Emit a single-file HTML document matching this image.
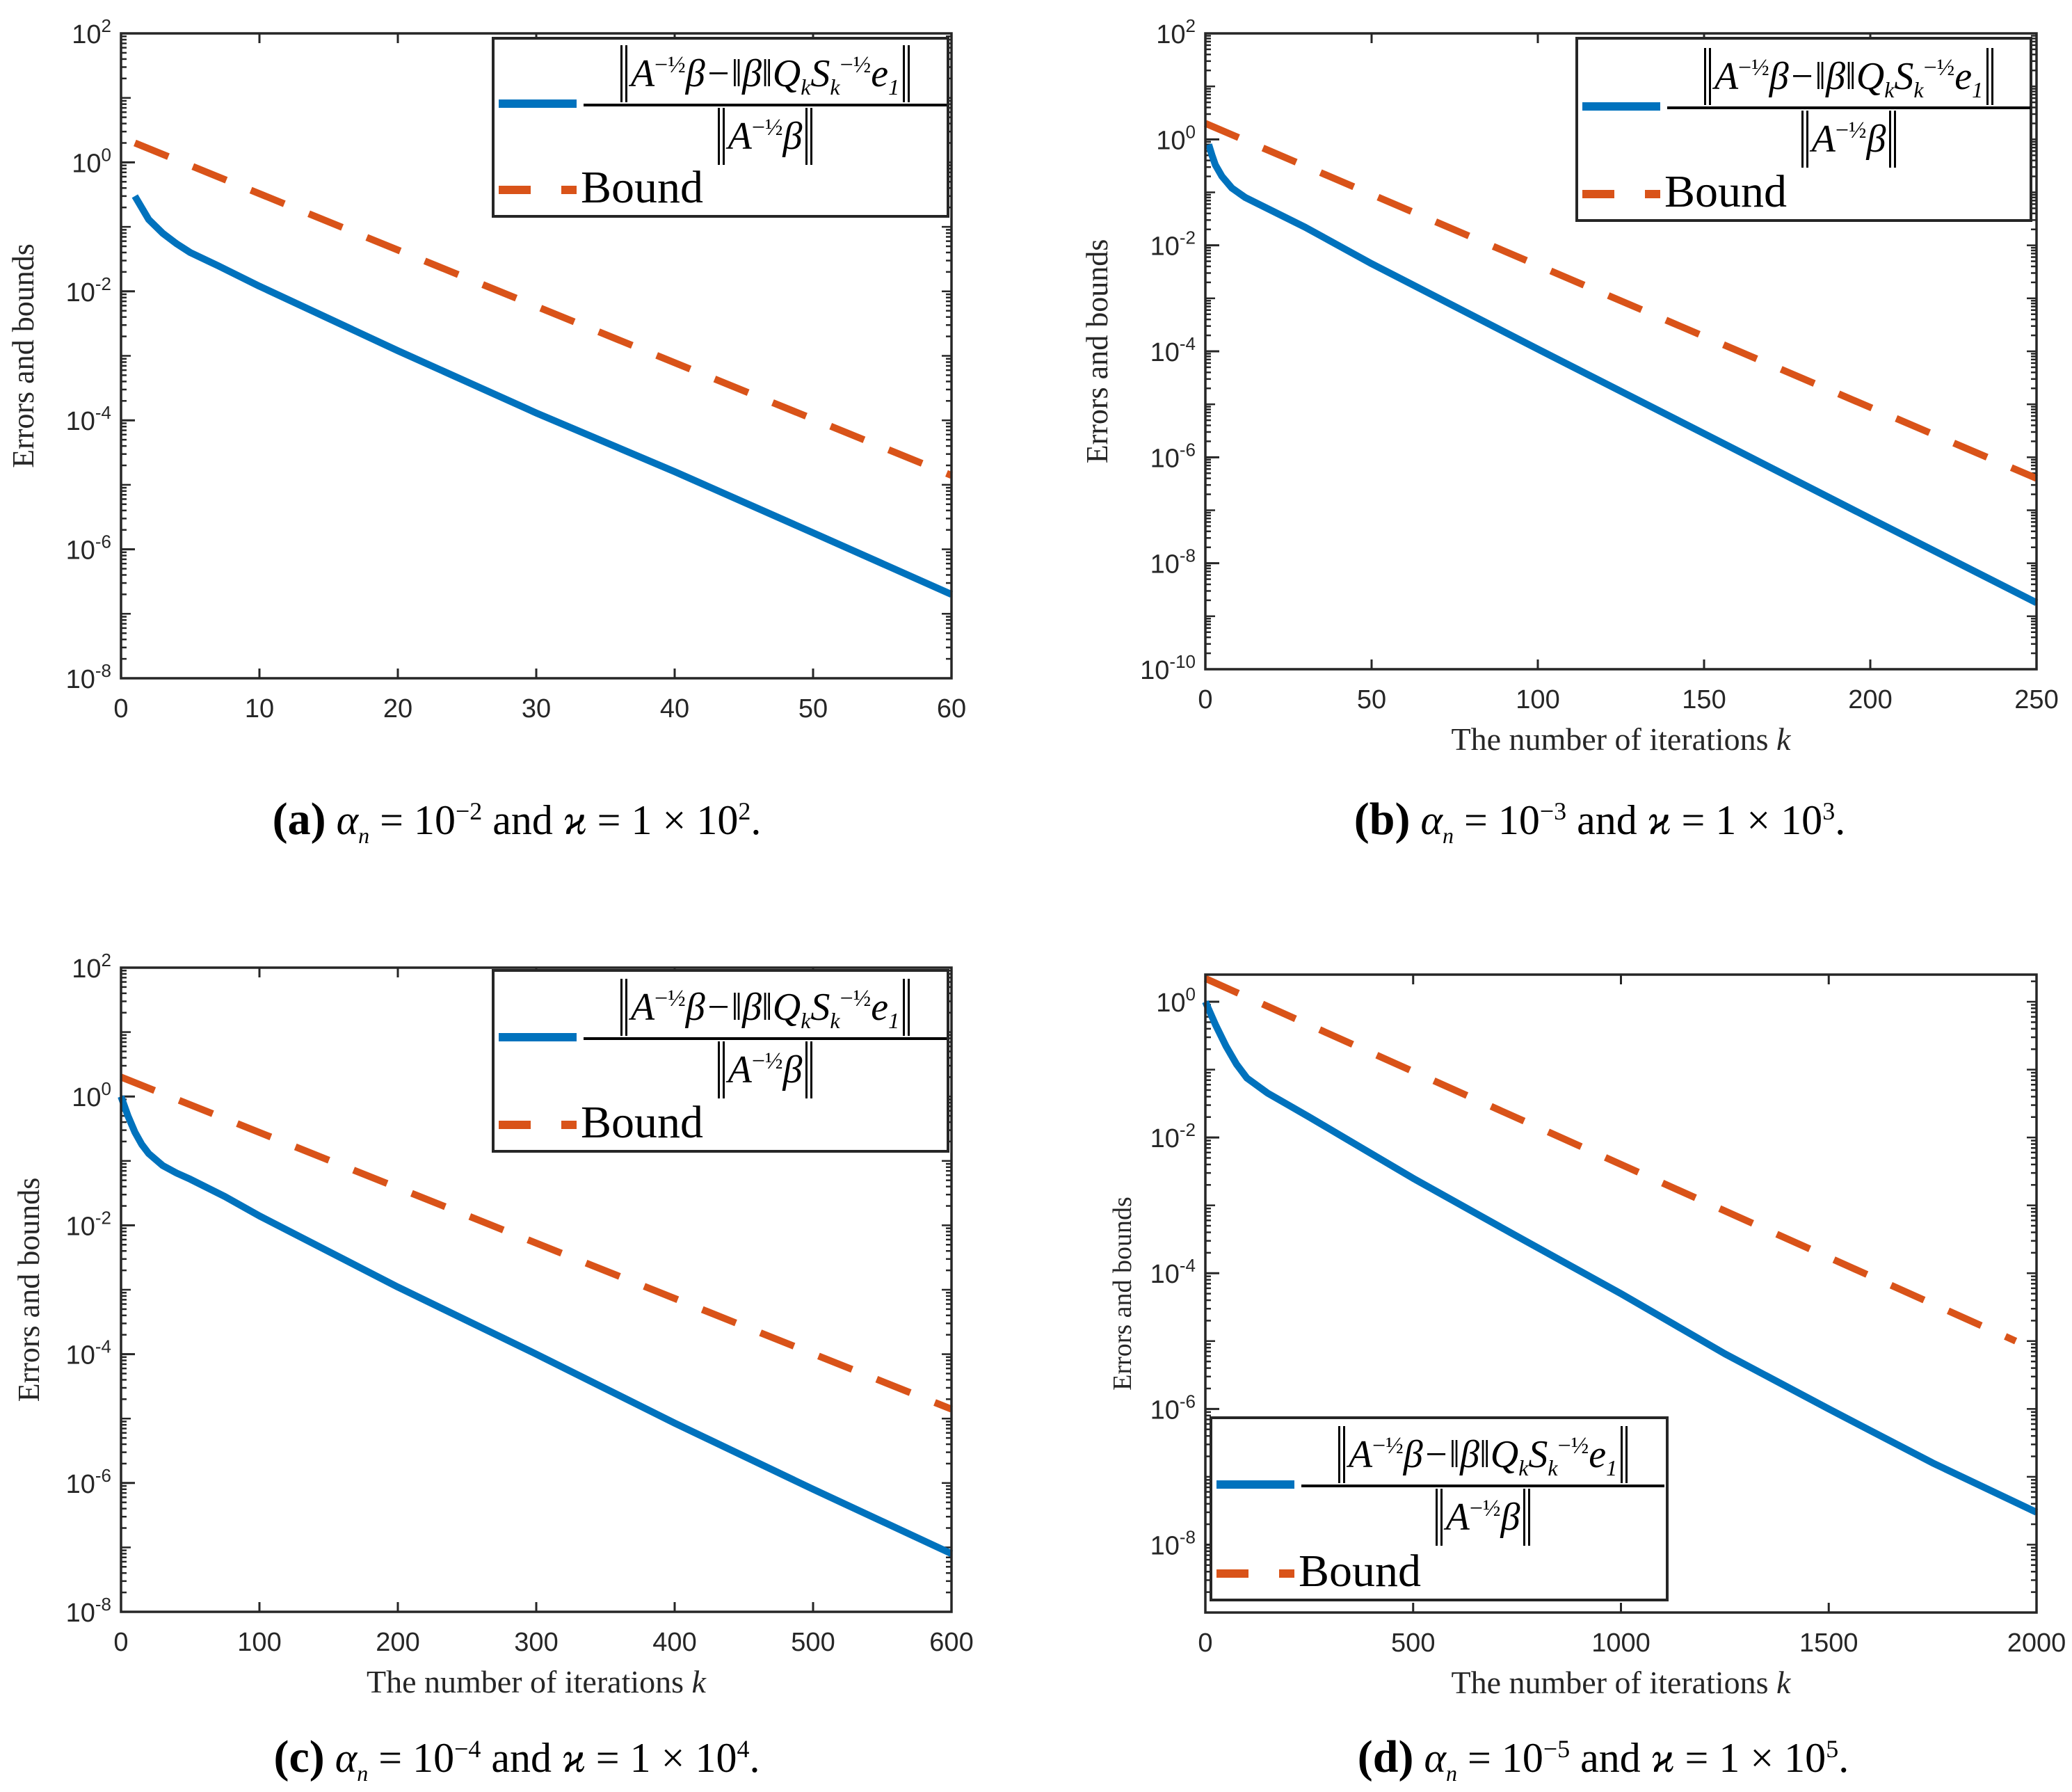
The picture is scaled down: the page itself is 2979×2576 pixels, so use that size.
<!DOCTYPE html>
<html><head><meta charset="utf-8">
<style>
html,body{margin:0;padding:0;background:#fff;}
body{width:2979px;height:2576px;position:relative;overflow:hidden;font-family:"Liberation Serif",serif;}
svg{position:absolute;left:0;top:0;}
.leg{position:absolute;border:4px solid #262626;background:#fff;box-sizing:border-box;}
.leg .l1{position:absolute;left:6px;height:12px;width:112px;background:#0072BD;}
.leg .d1{position:absolute;left:6px;height:12px;width:46px;background:#D95319;}
.leg .d2{position:absolute;left:96px;height:12px;width:22px;background:#D95319;}
.leg .bd{position:absolute;left:124px;font-size:66px;color:#000;line-height:1;}
.frac{position:absolute;left:128px;width:522px;font-family:"Liberation Serif",serif;font-style:italic;font-size:56px;color:#000;text-align:center;}
.num{border-bottom:4px solid #000;padding:0 2px 2px;white-space:nowrap;}
.den{padding-top:2px;white-space:nowrap;}
.nb{display:inline-block;border-left:10px double #000;border-right:10px double #000;height:82px;line-height:82px;padding:0 5px;vertical-align:top;}
sup{font-size:34px;font-style:normal;vertical-align:20px;line-height:0;}
sub{font-size:32px;line-height:0;}
.cap{position:absolute;font-size:60px;color:#000;white-space:nowrap;transform:translateX(-50%);}
.cap b{font-family:"Liberation Serif",serif;font-size:66px;}
.cap i{font-style:italic;}
.cap sup{font-size:36px;vertical-align:super;}
</style></head>
<body>
<svg id="fig" width="2979" height="2576" xmlns="http://www.w3.org/2000/svg"></svg>

<div class="leg" style="left:707px;top:53px;width:658px;height:260px;">
 <div class="l1" style="top:86px"></div>
 <div class="frac" style="top:8px"><div class="num"><span class="nb">A<sup>−½</sup>β−‖β‖Q<sub>k</sub>S<sub>k</sub><sup>−½</sup>e<sub>1</sub></span></div><div class="den"><span class="nb">A<sup>−½</sup>β</span></div></div>
 <div class="d1" style="top:210px"></div><div class="d2" style="top:210px"></div>
 <div class="bd" style="top:180px">Bound</div>
</div>
<div class="leg" style="left:2265px;top:53px;width:657px;height:266px;">
 <div class="l1" style="top:90px"></div>
 <div class="frac" style="top:12px"><div class="num"><span class="nb">A<sup>−½</sup>β−‖β‖Q<sub>k</sub>S<sub>k</sub><sup>−½</sup>e<sub>1</sub></span></div><div class="den"><span class="nb">A<sup>−½</sup>β</span></div></div>
 <div class="d1" style="top:216px"></div><div class="d2" style="top:216px"></div>
 <div class="bd" style="top:186px">Bound</div>
</div>
<div class="leg" style="left:707px;top:1393px;width:658px;height:264px;">
 <div class="l1" style="top:88px"></div>
 <div class="frac" style="top:10px"><div class="num"><span class="nb">A<sup>−½</sup>β−‖β‖Q<sub>k</sub>S<sub>k</sub><sup>−½</sup>e<sub>1</sub></span></div><div class="den"><span class="nb">A<sup>−½</sup>β</span></div></div>
 <div class="d1" style="top:214px"></div><div class="d2" style="top:214px"></div>
 <div class="bd" style="top:184px">Bound</div>
</div>
<div class="leg" style="left:1739px;top:2036px;width:660px;height:266px;">
 <div class="l1" style="top:88px"></div>
 <div class="frac" style="top:10px"><div class="num"><span class="nb">A<sup>−½</sup>β−‖β‖Q<sub>k</sub>S<sub>k</sub><sup>−½</sup>e<sub>1</sub></span></div><div class="den"><span class="nb">A<sup>−½</sup>β</span></div></div>
 <div class="d1" style="top:216px"></div><div class="d2" style="top:216px"></div>
 <div class="bd" style="top:186px">Bound</div>
</div>

<div class="cap" style="left:743px;top:1140px"><b>(a)</b> <i>α<sub>n</sub></i> = 10<sup>−2</sup> and <i>ϰ</i> = 1 × 10<sup>2</sup>.</div>
<div class="cap" style="left:2300px;top:1140px"><b>(b)</b> <i>α<sub>n</sub></i> = 10<sup>−3</sup> and <i>ϰ</i> = 1 × 10<sup>3</sup>.</div>
<div class="cap" style="left:743px;top:2488px"><b>(c)</b> <i>α<sub>n</sub></i> = 10<sup>−4</sup> and <i>ϰ</i> = 1 × 10<sup>4</sup>.</div>
<div class="cap" style="left:2305px;top:2488px"><b>(d)</b> <i>α<sub>n</sub></i> = 10<sup>−5</sup> and <i>ϰ</i> = 1 × 10<sup>5</sup>.</div>

<script>
// Panel (a)
const kA = [1, 2, 3, 4, 5, 7, 10, 20, 30, 40, 50, 60];
const errA = [0.3, 0.13, 0.08, 0.055, 0.04, 0.025, 0.012, 1.2e-3, 1.3e-4, 1.6e-5, 1.8e-6, 2e-7];
const bkA = [1, 60];
const bndA = [2, 1.4e-5];
const xTicksA = [0, 10, 20, 30, 40, 50, 60];
const yExpA = [2, 0, -2, -4, -6, -8];
// Panel (b)
const kB = [1, 2, 3, 5, 8, 12, 20, 30, 50, 100, 150, 200, 250];
const errB = [0.8, 0.5, 0.33, 0.2, 0.12, 0.08, 0.045, 0.022, 4.5e-3, 1.1e-4, 2.8e-6, 7e-8, 1.8e-9];
const bkB = [0, 250];
const bndB = [2, 4e-7];
const xTicksB = [0, 50, 100, 150, 200, 250];
const yExpB = [2, 0, -2, -4, -6, -8, -10];
// Panel (c)
const kC = [0, 5, 10, 15, 20, 30, 40, 50, 75, 100, 200, 300, 400, 500, 600];
const errC = [1, 0.5, 0.28, 0.18, 0.13, 0.085, 0.065, 0.052, 0.028, 0.014, 1.1e-3, 1e-4, 8.5e-6, 8e-7, 8e-8];
const bkC = [0, 600];
const bndC = [2, 1.4e-5];
const xTicksC = [0, 100, 200, 300, 400, 500, 600];
const yExpC = [2, 0, -2, -4, -6, -8];
// Panel (d)
const kD = [0, 25, 50, 75, 100, 150, 200, 250, 500, 750, 1000, 1250, 1500, 1750, 2000];
const errD = [1, 0.45, 0.22, 0.12, 0.075, 0.045, 0.03, 0.02, 2.5e-3, 3.5e-4, 5e-5, 6.5e-6, 1e-6, 1.6e-7, 3e-8];
const bkD = [0, 1950];
const bndD = [2.2, 1e-5];
const xTicksD = [0, 500, 1000, 1500, 2000];
const yExpD = [0, -2, -4, -6, -8];

const svg = document.getElementById('fig');
const NS = 'http://www.w3.org/2000/svg';
function mk(tag, attrs){const e=document.createElementNS(NS,tag);for(const k in attrs)e.setAttribute(k,attrs[k]);svg.appendChild(e);return e;}

function panel(cfg, id){
  const {x0,x1,y0,y1,xmax,lmin,lmax} = cfg;
  const X = v => x0 + (v/xmax)*(x1-x0);
  const Y = v => y1 - (Math.log10(v)-lmin)/(lmax-lmin)*(y1-y0);
  const g = mk('g',{});
  
  
  for(let e=Math.floor(lmin); e<Math.ceil(lmax); e++){
    for(let m=1;m<=9;m++){
      const v=m*Math.pow(10,e); const lv=Math.log10(v);
      if(lv<lmin-1e-9||lv>lmax+1e-9) continue;
      const y=Y(v); const len = m===1?14:8;
      mk('line',{x1:x0,x2:x0+len,y1:y,y2:y,stroke:'#262626','stroke-width':2.5});
      mk('line',{x1:x1,x2:x1-len,y1:y,y2:y,stroke:'#262626','stroke-width':2.5});
    }
  }
  cfg.yExp.forEach(e=>{
    const y=Y(Math.pow(10,e));
    mk('line',{x1:x0,x2:x0+20,y1:y,y2:y,stroke:'#262626','stroke-width':3});
    const t=mk('text',{x:x0-14,y:y+14,'text-anchor':'end','font-family':'Liberation Sans, sans-serif','font-size':38,fill:'#262626'});
    
    
    t.textContent='10';
    const s=document.createElementNS(NS,'tspan');s.setAttribute('dy','-16');s.setAttribute('font-size','26');s.textContent=String(e);t.appendChild(s);
  });
  cfg.xTicks.forEach(v=>{
    const x=X(v);
    mk('line',{x1:x,x2:x,y1:y1,y2:y1-14,stroke:'#262626','stroke-width':3});
    mk('line',{x1:x,x2:x,y1:y0,y2:y0+14,stroke:'#262626','stroke-width':3});
    const t=mk('text',{x:x,y:y1+56,'text-anchor':'middle','font-family':'Liberation Sans, sans-serif','font-size':38,fill:'#262626'});
    
    
    t.textContent=v;
  });
  const bp = cfg.bk.map((k,i)=>X(k)+','+Y(cfg.bnd[i])).join(' ');
  const bl = mk('polyline',{points:bp,fill:'none',stroke:'#D95319','stroke-width':10,'stroke-dasharray':'52 38'});
  
  
  const ep = cfg.k.map((k,i)=>X(k)+','+Y(cfg.err[i])).join(' ');
  const el = mk('polyline',{points:ep,fill:'none',stroke:'#0072BD','stroke-width':10,'stroke-linejoin':'round'});
  
  
  const box = mk('rect',{x:x0,y:y0,width:x1-x0,height:y1-y0,fill:'none',stroke:'#262626','stroke-width':3.5});
  
  
  const yt = mk('text',{x:0,y:0,transform:`translate(${cfg.ytx},${(y0+y1)/2}) rotate(-90)`,'text-anchor':'middle','font-family':'Liberation Serif, serif','font-size':cfg.ytf,fill:'#262626'});
  
  
  yt.textContent='Errors and bounds';
  if(cfg.xt){
    const xt = mk('text',{x:(x0+x1)/2,y:y1+116,'text-anchor':'middle','font-family':'Liberation Serif, serif','font-size':46,fill:'#262626'});
    
    
    xt.textContent='The number of iterations ';
    const ki=document.createElementNS(NS,'tspan');ki.setAttribute('font-style','italic');ki.textContent='k';xt.appendChild(ki);
  }
}
panel({x0:174,x1:1368,y0:48,y1:975,xmax:60,lmin:-8,lmax:2,k:kA,err:errA,bk:bkA,bnd:bndA,xTicks:xTicksA,yExp:yExpA,ytx:48,ytf:44,xt:false},'a');
panel({x0:1733,x1:2928,y0:48,y1:962,xmax:250,lmin:-10,lmax:2,k:kB,err:errB,bk:bkB,bnd:bndB,xTicks:xTicksB,yExp:yExpB,ytx:1592,ytf:44,xt:true},'b');
panel({x0:174,x1:1368,y0:1391,y1:2317,xmax:600,lmin:-8,lmax:2,k:kC,err:errC,bk:bkC,bnd:bndC,xTicks:xTicksC,yExp:yExpC,ytx:56,ytf:44,xt:true},'c');
panel({x0:1733,x1:2928,y0:1401,y1:2318,xmax:2000,lmin:-9,lmax:0.4,k:kD,err:errD,bk:bkD,bnd:bndD,xTicks:xTicksD,yExp:yExpD,ytx:1626,ytf:38,xt:true},'d');
</script>
</body></html>
